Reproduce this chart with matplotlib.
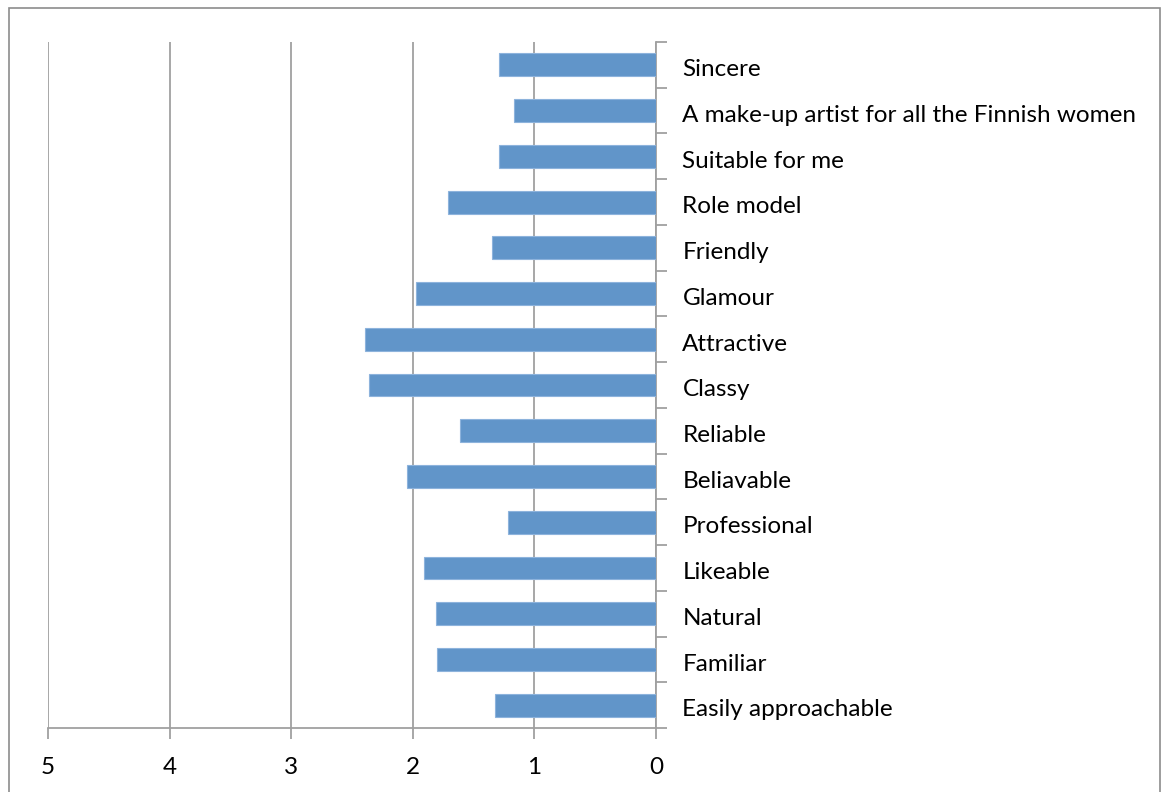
import numpy as np
import matplotlib.pyplot as plt
from matplotlib.patches import Rectangle

# categories, top to bottom as in the chart
labels = ["Sincere", "A make-up artist for all the Finnish women", "Suitable for me",
          "Role model", "Friendly", "Glamour", "Attractive", "Classy", "Reliable",
          "Beliavable", "Professional", "Likeable", "Natural", "Familiar",
          "Easily approachable"]
values = [1.29, 1.17, 1.29, 1.71, 1.35, 1.97, 2.39, 2.36, 1.61, 2.05, 1.22, 1.91,
          1.81, 1.80, 1.32]
xticks = [5, 4, 3, 2, 1, 0]

plt.rcParams['font.family'] = ['Lato', 'DejaVu Sans']
grey = "#a0a0a0"

fig = plt.figure(figsize=(11.62, 7.92), dpi=100)
ax = fig.add_axes([48 / 1162, 1 - 728 / 792, (656 - 48) / 1162, (728 - 42) / 792])

n = len(labels)
ypos = np.arange(n)[::-1]  # first label on top
ax.barh(ypos, values, height=0.5, color="#6195c9", edgecolor="#8db3dc", linewidth=0.8, zorder=3)

ax.set_xlim(5, 0)
ax.set_ylim(-0.5, n - 0.5)
ax.set_xticks(xticks)
ax.set_xticklabels([str(t) for t in xticks], fontsize=17.5)
ax.xaxis.grid(True, color=grey, linewidth=1.3, zorder=0)

ax.yaxis.tick_right()
ax.set_yticks(ypos - 0.06)
ax.set_yticklabels(labels, fontsize=17.5)
ax.set_yticks(np.arange(-0.5, n, 1), minor=True)
ax.tick_params(axis="y", which="major", length=0, pad=19)
ax.tick_params(axis="y", which="minor", length=8, width=1.3, color=grey, direction="out")
ax.tick_params(axis="x", length=8, width=1.3, color=grey, direction="out", pad=13)

for s in ["top", "left"]:
    ax.spines[s].set_visible(False)
ax.spines["right"].set_color(grey)
ax.spines["right"].set_linewidth(1.3)
ax.spines["bottom"].set_color(grey)
ax.spines["bottom"].set_linewidth(1.3)

# chart area border
fig.patches.append(Rectangle((9 / 1162, -0.01), (1160 - 9) / 1162, 1 - 8 / 792 + 0.01,
                             transform=fig.transFigure, fill=False, edgecolor="#8c8c8c",
                             linewidth=1.2))

fig.savefig("out.png", dpi=100)
